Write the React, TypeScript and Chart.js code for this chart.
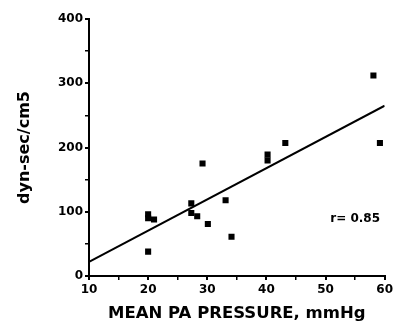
import React, { useEffect, useRef } from "react";
import { Chart, registerables } from "chart.js";

Chart.register(...registerables);

const pressureX = [20, 20, 21, 20, 27.3, 27.3, 28.3, 29.2, 30.1, 33.1, 34.1, 40.2, 40.2, 43.2, 58.1, 59.2];
const resistanceY = [96, 90, 88, 38, 113, 98, 93, 175, 81, 118, 61, 189, 180, 207, 312, 207];
const fitX = [10, 60];
const fitY = [22, 265];
const xTicks = [10, 20, 30, 40, 50, 60];
const yTicks = [0, 100, 200, 300, 400];
const rLabel = "r= 0.85";
const xTitle = "MEAN PA PRESSURE, mmHg";
const yTitle = "dyn-sec/cm5";

const FONT = "'DejaVu Sans', sans-serif";

const rPlugin = {
  id: "rLabel",
  afterDatasetsDraw(chart: any) {
    const { ctx, scales } = chart;
    const x = scales.x.getPixelForValue(50.8);
    const y = scales.y.getPixelForValue(89);
    ctx.save();
    ctx.font = `bold 12px ${FONT}`;
    ctx.fillStyle = "#000";
    ctx.textAlign = "left";
    ctx.textBaseline = "middle";
    ctx.fillText(rLabel, x, y);
    ctx.restore();
  },
};

export default function App() {
  const ref = useRef<HTMLCanvasElement>(null);
  useEffect(() => {
    if (!ref.current) return;
    const chart = new Chart(ref.current, {
      type: "scatter",
      data: {
        datasets: [
          {
            type: "scatter",
            data: pressureX.map((x, i) => ({ x, y: resistanceY[i] })),
            backgroundColor: "#000",
            borderColor: "#000",
            pointStyle: "rect",
            pointRadius: 4.3,
            borderWidth: 0,
          } as any,
          {
            type: "line",
            data: fitX.map((x, i) => ({ x, y: fitY[i] })),
            borderColor: "#000",
            borderWidth: 2,
            pointRadius: 0,
            fill: false,
          } as any,
        ],
      },
      options: {
        animation: false,
        responsive: false,
        layout: { padding: { top: 19, right: 11, left: 15, bottom: 0 } },
        plugins: { legend: { display: false }, tooltip: { enabled: false } },
        scales: {
          x: {
            type: "linear",
            min: 10,
            max: 60,
            afterBuildTicks: (s: any) => {
              const t = [];
              for (let v = 10; v <= 60; v += 5) t.push({ value: v });
              s.ticks = t;
            },
            afterFit: (s: any) => {
              s.height = 48;
            },
            ticks: {
              color: "#000",
              font: { family: FONT, weight: "bold", size: 12 },
              padding: 3,
              maxRotation: 0,
              callback: (v: any) => (xTicks.includes(v) ? String(v) : ""),
            },
            grid: {
              drawOnChartArea: false,
              drawTicks: true,
              tickLength: 4,
              color: "#000",
              lineWidth: (c: any) => (c.tick && xTicks.includes(c.tick.value) ? 2 : 1.5),
            },
            border: { display: true, color: "#000", width: 2 },
            title: {
              display: true,
              text: xTitle,
              color: "#000",
              font: { family: FONT, weight: "bold", size: 16.5 },
              padding: { top: 0, bottom: 0 },
            },
          },
          y: {
            type: "linear",
            min: 0,
            max: 400,
            afterBuildTicks: (s: any) => {
              const t = [];
              for (let v = 0; v <= 400; v += 50) t.push({ value: v });
              s.ticks = t;
            },
            afterFit: (s: any) => {
              s.width = 74;
            },
            ticks: {
              color: "#000",
              font: { family: FONT, weight: "bold", size: 12 },
              padding: 2,
              callback: (v: any) => (yTicks.includes(v) ? String(v) : ""),
            },
            grid: {
              drawOnChartArea: false,
              drawTicks: true,
              tickLength: 4,
              color: "#000",
              lineWidth: (c: any) => (c.tick && yTicks.includes(c.tick.value) ? 2 : 1.5),
            },
            border: { display: true, color: "#000", width: 2 },
            title: {
              display: true,
              text: yTitle,
              color: "#000",
              font: { family: FONT, weight: "bold", size: 16 },
              padding: { top: 0, bottom: 0 },
            },
          },
        },
      },
      plugins: [rPlugin],
    });
    return () => chart.destroy();
  }, []);
  return (
    <div style={{ position: "fixed", left: 0, top: 0, width: 396, height: 324, background: "#fff" }}>
      <canvas ref={ref} width={396} height={324} style={{ width: 396, height: 324 }} />
    </div>
  );
}
